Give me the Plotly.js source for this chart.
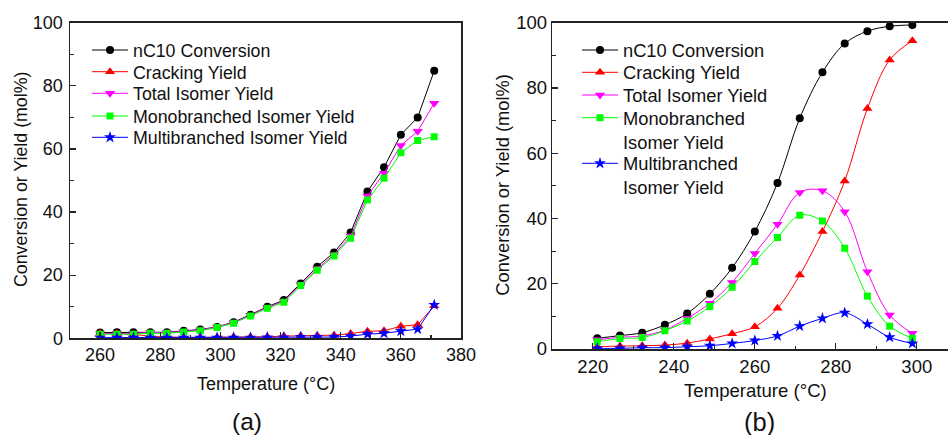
<!DOCTYPE html>
<html>
<head>
<meta charset="utf-8">
<script src="https://cdn.plot.ly/plotly-3.0.1.min.js"></script>
<style>html,body{margin:0;padding:0;background:#fff;}#chart{width:948px;height:435px;}</style>
</head>
<body>
<div id="chart"></div>
<script>
// ---- Panel (a) data ----
const tempA = [260, 265.6, 271.1, 276.7, 282.2, 287.8, 293.3, 298.9, 304.4, 310, 315.6, 321.1, 326.7, 332.2, 337.8, 343.3, 348.9, 354.4, 360, 365.6, 371.1];
const convA = [1.8, 1.9, 1.9, 1.9, 1.9, 2.4, 2.8, 3.6, 5.1, 7.5, 10.0, 12.1, 17.4, 22.7, 27.2, 33.5, 46.5, 54.2, 64.5, 70.0, 84.8];
const crackA = [1.6, 1.5, 1.3, 0.6, 0.4, 0.3, 0.3, 0.3, 0.4, 0.4, 0.5, 0.7, 0.8, 0.9, 1.0, 1.5, 2.2, 2.4, 3.8, 4.3, 10.3];
const totalA = [1.5, 1.5, 1.5, 1.8, 1.8, 2.2, 2.6, 3.6, 5.0, 7.3, 9.8, 11.7, 17.1, 22.0, 26.5, 32.4, 45.1, 52.3, 61.1, 65.6, 74.5];
const monoA = [1.3, 1.3, 1.3, 1.6, 1.6, 2.0, 2.4, 3.4, 4.8, 7.1, 9.5, 11.4, 16.7, 21.6, 26.1, 31.7, 43.8, 50.7, 58.8, 62.7, 63.9];
const multiA = [0.2, 0.2, 0.2, 0.2, 0.2, 0.2, 0.2, 0.2, 0.2, 0.2, 0.3, 0.3, 0.4, 0.4, 0.4, 0.7, 1.3, 1.6, 2.3, 2.9, 10.6];

// ---- Panel (b) data ----
const tempB = [221.1, 226.7, 232.2, 237.8, 243.3, 248.9, 254.4, 260, 265.6, 271.1, 276.7, 282.2, 287.8, 293.3, 298.9];
const convB = [3.3, 4.1, 5.0, 7.4, 10.9, 16.9, 24.9, 36.0, 50.9, 70.7, 84.8, 93.6, 97.4, 98.9, 99.3];
const crackB = [0.7, 0.9, 1.0, 1.2, 1.8, 3.1, 4.7, 6.8, 12.5, 22.7, 36.0, 51.5, 73.7, 88.6, 94.5];
const totalB = [2.8, 3.6, 4.0, 5.8, 9.4, 14.0, 20.4, 29.3, 38.2, 48.0, 48.5, 42.1, 23.7, 10.4, 4.8];
const monoB = [2.2, 3.2, 3.5, 5.6, 8.6, 13.0, 18.9, 26.8, 34.2, 41.0, 39.2, 30.9, 16.2, 7.0, 3.3];
const multiB = [0.2, 0.2, 0.4, 0.4, 0.7, 1.0, 1.7, 2.6, 4.0, 7.0, 9.4, 11.1, 7.6, 3.6, 1.7];

const namesA = ['nC10 Conversion', 'Cracking Yield', 'Total Isomer Yield', 'Monobranched Isomer Yield', 'Multibranched Isomer Yield'];
const namesB = ['nC10 Conversion', 'Cracking Yield', 'Total Isomer Yield', 'Monobranched<br>Isomer Yield', 'Multibranched<br>Isomer Yield'];
const colors = ['#000000', '#ff0000', '#ff00ff', '#00ff00', '#0000ff'];
const symbols = ['circle', 'triangle-up', 'triangle-down', 'square', 'star'];
const sizes = [8, 9, 9, 7, 9];

const W = 948, H = 435;
const px = x => x / W, py = y => 1 - y / H;
const FONT = 'Liberation Sans, Arial, sans-serif';

const seriesA = [convA, crackA, totalA, monoA, multiA];
const seriesB = [convB, crackB, totalB, monoB, multiB];

// legend row first-line centres (pixels)
const rowsA = [50, 71.7, 93.3, 116, 137.3];
const rowsB = [50, 72.3, 95, 117.7, 163.3];
const legX_A = 87, legX_B = 577;
const FS_A = 17.8, FS_B = 18.3;

const legName = k => (k === 1 ? 'legend' : 'legend' + k);

const traces = [];
const legends = {};
seriesA.forEach((ys, i) => {
  const ln = legName(i + 1);
  traces.push({
    x: tempA, y: ys, name: namesA[i], type: 'scatter', mode: 'lines+markers',
    xaxis: 'x', yaxis: 'y', legend: ln,
    line: {color: colors[i], width: 1, shape: 'linear'},
    marker: {color: colors[i], symbol: symbols[i], size: sizes[i]}
  });
  legends[ln] = {x: px(legX_A), y: py(rowsA[i] - 6.5 - FS_A * 1.3 / 2), xanchor: 'left', yanchor: 'top',
    bgcolor: 'rgba(0,0,0,0)', font: {family: FONT, size: FS_A, color: '#111'}, itemwidth: 36, valign: 'top'};
});
seriesB.forEach((ys, i) => {
  const ln = legName(i + 6);
  traces.push({
    x: tempB, y: ys, name: namesB[i], type: 'scatter', mode: 'lines+markers',
    xaxis: 'x2', yaxis: 'y2', legend: ln,
    line: {color: colors[i], width: 1, shape: 'spline', smoothing: 1},
    marker: {color: colors[i], symbol: symbols[i], size: sizes[i]}
  });
  legends[ln] = {x: px(legX_B), y: py(rowsB[i] - 6.5 - FS_B * 1.3 / 2), xanchor: 'left', yanchor: 'top',
    bgcolor: 'rgba(0,0,0,0)', font: {family: FONT, size: FS_B, color: '#111'}, itemwidth: 36, valign: 'top'};
});

function axis(extra) {
  return Object.assign({
    showgrid: false, zeroline: false, showline: true, linecolor: '#222', linewidth: 1.5,
    ticks: 'inside', ticklen: 6, tickwidth: 1.2, tickcolor: '#222',
    tickfont: {family: FONT, size: 18, color: '#111'},
    fixedrange: true
  }, extra);
}
const minorTicks = {ticks: 'inside', ticklen: 3.5, dtick: 10, tickcolor: '#222', showgrid: false};

const layout = Object.assign({
  width: W, height: H,
  margin: {l: 0, r: 0, t: 0, b: 0},
  paper_bgcolor: '#fff', plot_bgcolor: '#fff',
  font: {family: FONT, color: '#111'},
  xaxis: axis({domain: [px(70), px(461)], range: [250, 380], dtick: 20, tick0: 260, mirror: true, anchor: 'y', minor: minorTicks}),
  yaxis: axis({domain: [py(338.3), py(22.7)], range: [0, 100], dtick: 20, mirror: true, anchor: 'x', minor: minorTicks, ticklabelstandoff: 2}),
  xaxis2: axis({domain: [px(552.3), 1], range: [210, 307.7], dtick: 20, tick0: 220, mirror: true, anchor: 'y2',
    tickfont: {family: FONT, size: 18.5, color: '#111'}, minor: minorTicks}),
  yaxis2: axis({domain: [py(349), py(22.7)], range: [0, 100], dtick: 20, mirror: false, anchor: 'x2',
    tickfont: {family: FONT, size: 18.5, color: '#111'}, minor: minorTicks}),
  annotations: [
    {text: 'Temperature (°C)', x: px(265.7), y: py(384.3), xref: 'paper', yref: 'paper', showarrow: false, xanchor: 'center', yanchor: 'middle', font: {family: FONT, size: 18, color: '#111'}},
    {text: 'Conversion or Yield (mol%)', x: px(21), y: py(180), xref: 'paper', yref: 'paper', showarrow: false, textangle: -90, xanchor: 'center', yanchor: 'middle', font: {family: FONT, size: 17.8, color: '#111'}},
    {text: 'Temperature (°C)', x: px(755), y: py(390), xref: 'paper', yref: 'paper', showarrow: false, xanchor: 'center', yanchor: 'middle', font: {family: FONT, size: 18.6, color: '#111'}},
    {text: 'Conversion or Yield (mol%)', x: px(501.7), y: py(185), xref: 'paper', yref: 'paper', showarrow: false, textangle: -90, xanchor: 'center', yanchor: 'middle', font: {family: FONT, size: 18.3, color: '#111'}},
    {text: '(a)', x: px(246.7), y: py(421.7), xref: 'paper', yref: 'paper', showarrow: false, xanchor: 'center', yanchor: 'middle', font: {family: FONT, size: 24.5, color: '#111'}},
    {text: '(b)', x: px(759.3), y: py(421.7), xref: 'paper', yref: 'paper', showarrow: false, xanchor: 'center', yanchor: 'middle', font: {family: FONT, size: 25.5, color: '#111'}}
  ],
  showlegend: true
}, legends);

Plotly.newPlot('chart', traces, layout, {displayModeBar: false, staticPlot: true});
</script>
</body>
</html>
